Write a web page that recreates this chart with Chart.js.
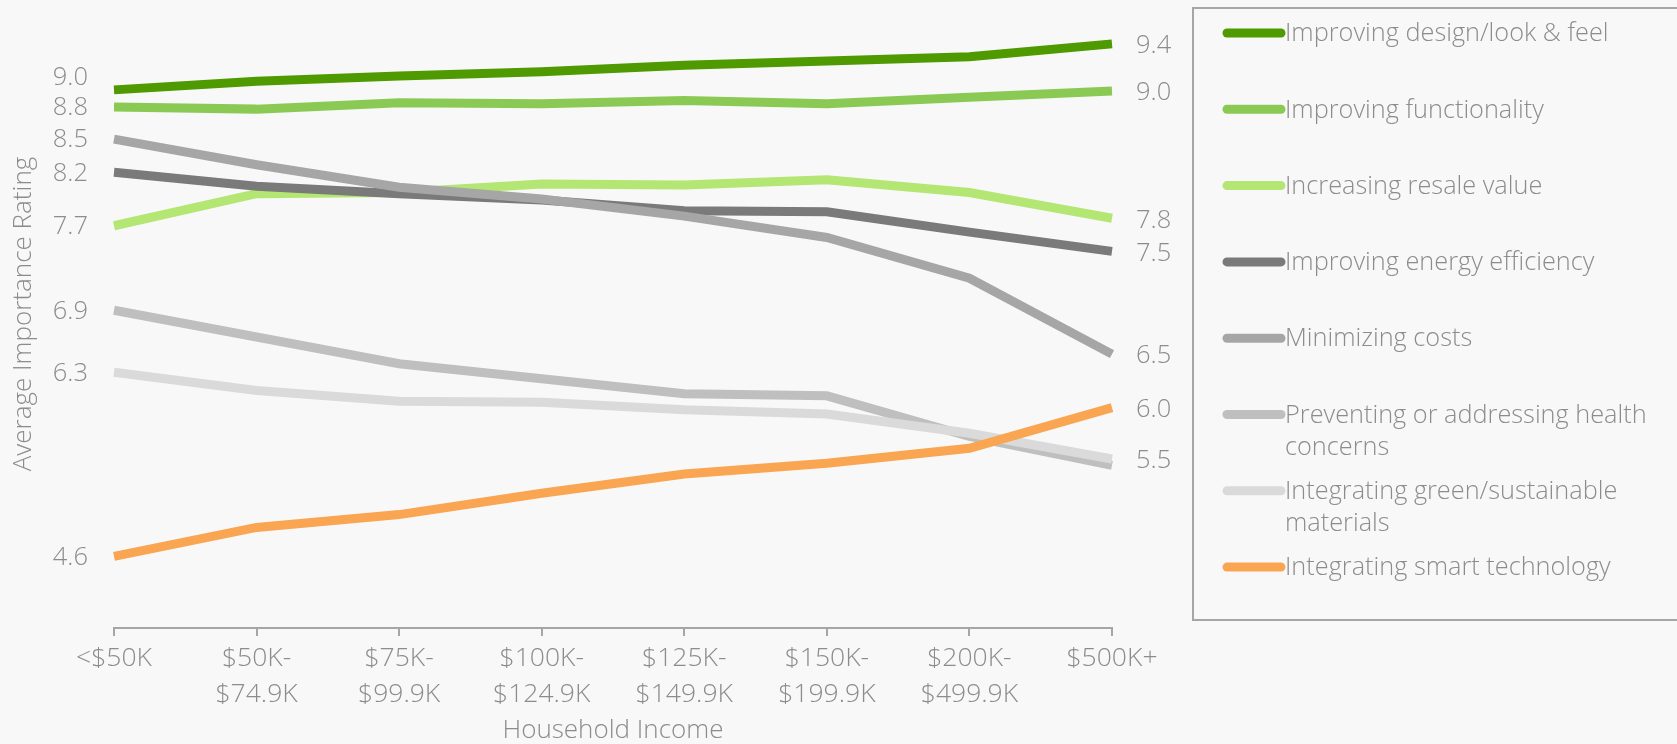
<!DOCTYPE html>
<html>
<head>
<meta charset="utf-8">
<script src="https://cdn.jsdelivr.net/npm/chart.js@4/dist/chart.umd.min.js"></script>
<style>
  html, body { margin: 0; padding: 0; background: #f8f8f8; }
  #chart { display: block; }
</style>
</head>
<body>
<canvas id="chart" width="1677" height="744"></canvas>
<script>
const categories = ["<$50K", ["$50K-", "$74.9K"], ["$75K-", "$99.9K"], ["$100K-", "$124.9K"],
  ["$125K-", "$149.9K"], ["$150K-", "$199.9K"], ["$200K-", "$499.9K"], "$500K+"];

const seriesNames = [
  "Improving design/look & feel",
  "Improving functionality",
  "Increasing resale value",
  "Improving energy efficiency",
  "Minimizing costs",
  ["Preventing or addressing health", "concerns"],
  ["Integrating green/sustainable", "materials"],
  "Integrating smart technology",
];

const designLook = [8.96, 9.04, 9.09, 9.13, 9.19, 9.23, 9.27, 9.39];
const functionality = [8.80, 8.78, 8.84, 8.83, 8.86, 8.83, 8.89, 8.95];
const resaleValue = [7.69, 7.99, 8.00, 8.08, 8.07, 8.12, 8.00, 7.76];
const energyEfficiency = [8.19, 8.06, 7.99, 7.93, 7.83, 7.82, 7.63, 7.45];
const minimizingCosts = [8.50, 8.26, 8.05, 7.94, 7.78, 7.58, 7.20, 6.49];
const healthConcerns = [6.90, 6.65, 6.40, 6.26, 6.12, 6.10, 5.72, 5.45];
const greenMaterials = [6.32, 6.15, 6.05, 6.04, 5.97, 5.93, 5.75, 5.51];
const smartTech = [4.60, 4.87, 4.99, 5.19, 5.37, 5.47, 5.61, 5.99];

// labels printed at the start (left) and end (right) of each line
const startLabels = ["9.0", "8.8", "7.7", "8.2", "8.5", "6.9", "6.3", "4.6"];
const endLabels = ["9.4", "9.0", "7.8", "7.5", "6.5", "", "5.5", "6.0"];

const colors = ["#4e9a00", "#8bc955", "#b3e673", "#7a7a7a", "#a6a6a6", "#bfbfbf", "#dadada", "#f9a552"];
const allSeries = [designLook, functionality, resaleValue, energyEfficiency, minimizingCosts,
  healthConcerns, greenMaterials, smartTech];

const FONT = "'Open Sans', Lato, sans-serif";
const GREY = "#8c8c8c";

const bgPlugin = {
  id: "bg",
  beforeDraw(chart) {
    const ctx = chart.ctx;
    ctx.save();
    ctx.fillStyle = "#f8f8f8";
    ctx.fillRect(0, 0, chart.width, chart.height);
    ctx.restore();
  }
};

const endLabelPlugin = {
  id: "endLabels",
  afterDatasetsDraw(chart) {
    const ctx = chart.ctx;
    const area = chart.chartArea;
    ctx.save();
    ctx.font = "300 25.5px " + FONT;
    ctx.fillStyle = GREY;
    ctx.textBaseline = "middle";

    // left labels, pushed apart when they collide
    const starts = chart.data.datasets.map((ds, i) => ({
      text: startLabels[i], y: chart.getDatasetMeta(i).data[0].y
    })).sort((a, b) => b.y - a.y);
    let prev = Infinity;
    ctx.textAlign = "right";
    starts.forEach(s => {
      let y = s.y;
      if (prev - y < 30) y = prev - 30;
      ctx.fillText(s.text, area.left - 26, y + 1);
      prev = y;
    });

    ctx.textAlign = "left";
    chart.data.datasets.forEach((ds, i) => {
      if (!endLabels[i]) return;
      const pts = chart.getDatasetMeta(i).data;
      const p = pts[pts.length - 1];
      ctx.fillText(endLabels[i], p.x + 24, p.y + 2);
    });
    ctx.restore();
  }
};

const legendPlugin = {
  id: "boxLegend",
  afterDraw(chart) {
    const ctx = chart.ctx;
    const boxX = chart.chartArea.right + 81;
    ctx.save();
    ctx.strokeStyle = "#a6a6a6";
    ctx.lineWidth = 2;
    ctx.strokeRect(boxX, 8, chart.width, 612);
    ctx.font = "300 25.3px " + FONT;
    ctx.fillStyle = GREY;
    ctx.textAlign = "left";
    ctx.textBaseline = "middle";
    chart.data.datasets.forEach((ds, i) => {
      const y = 33 + i * 76.3;
      ctx.beginPath();
      ctx.lineCap = "round";
      ctx.lineWidth = 9;
      ctx.strokeStyle = ds.borderColor;
      ctx.moveTo(boxX + 34, y);
      ctx.lineTo(boxX + 88, y);
      ctx.stroke();
      const lines = [].concat(ds.label);
      lines.forEach((t, j) => ctx.fillText(t, boxX + 92, y + 1 + j * 32));
    });
    ctx.restore();
  }
};

new Chart(document.getElementById("chart").getContext("2d"), {
  type: "line",
  data: {
    labels: categories,
    datasets: allSeries.map((values, i) => ({
      label: seriesNames[i],
      data: values,
      borderColor: colors[i],
      backgroundColor: colors[i],
      borderWidth: 9,
      pointRadius: 0,
      tension: 0,
      fill: false,
      order: allSeries.length - i,
    })),
  },
  options: {
    responsive: false,
    animation: false,
    devicePixelRatio: 1,
    layout: { padding: { left: 0, right: 565, top: 0, bottom: 0 } },
    plugins: {
      legend: { display: false },
      tooltip: { enabled: false },
    },
    scales: {
      x: {
        offset: false,
        grid: { drawOnChartArea: false, drawTicks: true, tickLength: 8, color: "#a6a6a6", lineWidth: 2 },
        border: { display: true, color: "#a6a6a6", width: 2 },
        ticks: {
          color: GREY,
          font: { family: FONT, size: 26.5, weight: 300, lineHeight: "36px" },
          maxRotation: 0,
          autoSkip: false,
          padding: 4,
        },
        title: {
          display: true,
          text: "Household Income",
          color: GREY,
          font: { family: FONT, size: 26, weight: 300, lineHeight: 1 },
          padding: { top: 0, bottom: 0 },
        },
        afterFit(scale) { scale.height = 116; },
      },
      y: {
        min: 3.93,
        max: 9.8,
        grid: { display: false },
        border: { display: false },
        ticks: { display: false },
        title: {
          display: true,
          text: "Average Importance Rating",
          color: GREY,
          font: { family: FONT, size: 26, weight: 300 },
          padding: { top: 8, bottom: 0 },
        },
        afterFit(scale) { scale.width = 114; },
      },
    },
  },
  plugins: [bgPlugin, endLabelPlugin, legendPlugin],
});
</script>
</body>
</html>
